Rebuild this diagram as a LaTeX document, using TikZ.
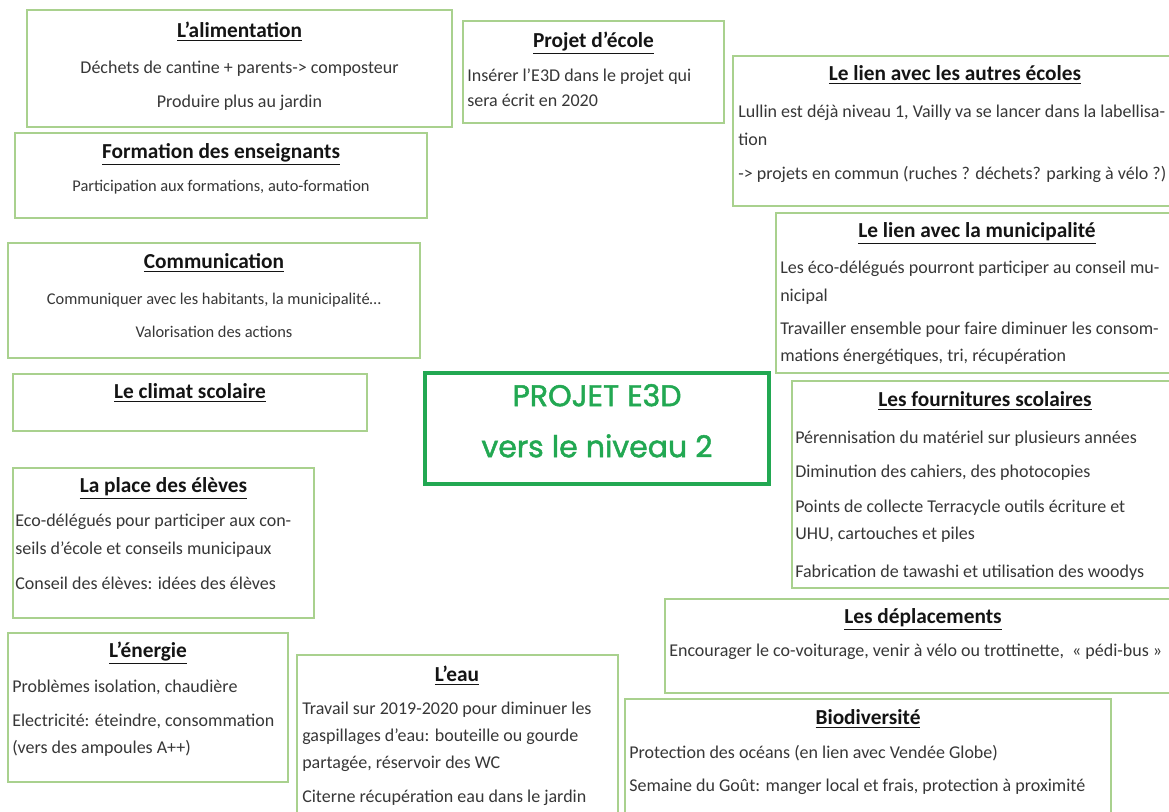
\documentclass[tikz,border=0pt]{standalone}
\usepackage{fontspec}
\setmainfont{Carlito}
\newfontface\ctrfont{Poppins}[FakeBold=1.6]
\usetikzlibrary{fit}
\definecolor{boxg}{RGB}{169,209,142}
\definecolor{ctrg}{RGB}{34,168,82}
\definecolor{txt}{RGB}{55,55,55}
\definecolor{ttlc}{RGB}{20,20,20}
\begin{document}
\begin{tikzpicture}[x=0.75pt,y=-0.75pt,
 box/.style={draw=boxg, line width=1.1pt, inner sep=0pt},
 ttl/.style={font=\fontsize{16}{19}\selectfont\bfseries, text=ttlc, inner sep=0pt, anchor=mid, yshift=-2pt},
 lc/.style={font=\fontsize{13.5}{16}\selectfont, text=txt, inner sep=0pt, anchor=mid, yshift=-1.5pt},
 ll/.style={font=\fontsize{13.5}{16}\selectfont, text=txt, inner sep=0pt, anchor=mid west, yshift=-1.5pt},
 ls/.style={font=\fontsize{12.3}{14}\selectfont, text=txt, inner sep=0pt, anchor=mid, yshift=-1.5pt},
 ctr/.style={font=\ctrfont\fontsize{22.5}{27}\selectfont, text=ctrg, inner sep=0pt, anchor=mid}]
\useasboundingbox (0,0) rectangle (1169,811);
\clip (0,0) rectangle (1169,811);
\fill[white] (0,0) rectangle (1169,811);

% boxes
\node[box, fit={(27,10)(452,127)}] (alimB) {};
\node[box, fit={(15,133)(427,218)}] (formB) {};
\node[box, fit={(463,21)(724,123)}] (projB) {};
\node[box, fit={(733,56)(1178,206)}] (autrB) {};
\node[box, fit={(776,213)(1178,373)}] (muniB) {};
\node[box, fit={(8,243)(420,358)}] (commB) {};
\node[box, fit={(13,374)(367,431)}] (climB) {};
\node[draw=ctrg, line width=2.3pt, inner sep=0pt, fit={(425,373)(769,484)}] (ctrB) {};
\node[box, fit={(792,381)(1178,588)}] (fourB) {};
\node[box, fit={(13,468)(314,618)}] (placB) {};
\node[box, fit={(665,599)(1181,693)}] (deplB) {};
\node[box, fit={(8,633)(288,782)}] (enerB) {};
\node[box, fit={(297,655)(618,820)}] (eauB) {};
\node[box, fit={(625,699)(1111,820)}] (bioB) {};

% L'alimentation
\node[ttl] (alimT) at (239.5,32) {\underline{L’alimentation}};
\node[lc] (alim1) at (239.5,68) {Déchets de cantine + parents-> composteur};
\node[lc] (alim2) at (239.5,102) {Produire plus au jardin};

% Formation
\node[ttl] (formT) at (221,153) {\underline{Formation des enseignants}};
\node[ls] (form1) at (221,186) {Participation aux formations, auto-formation};

% Projet d'ecole
\node[ttl] (projT) at (593.5,42) {\underline{Projet d’école}};
\node[ll] (proj1) at (467,76) {Insérer l’E3D dans le projet qui};
\node[ll] (proj2) at (467,101) {sera écrit en 2020};

% Autres ecoles
\node[ttl] (autrT) at (955,75) {\underline{Le lien avec les autres écoles}};
\node[ll] (autr1) at (738,112) {Lullin est déjà niveau 1, Vailly va se lancer dans la labellisa-};
\node[ll] (autr2) at (738,140) {tion};
\node[ll] (autr3) at (738,174) {-> projets en commun (ruches ? déchets? parking à vélo ?)};

% Municipalite
\node[ttl] (muniT) at (977,232) {\underline{Le lien avec la municipalité}};
\node[ll] (muni1) at (780,268) {Les éco-délégués pourront participer au conseil mu-};
\node[ll] (muni2) at (780,296) {nicipal};
\node[ll] (muni3) at (780,329) {Travailler ensemble pour faire diminuer les consom-};
\node[ll] (muni4) at (780,356) {mations énergétiques, tri, récupération};

% Communication
\node[ttl] (commT) at (214,263) {\underline{Communication}};
\node[ls] (comm1) at (214,299) {Communiquer avec les habitants, la municipalité…};
\node[ls] (comm2) at (214,332) {Valorisation des actions};

% Climat
\node[ttl] (climT) at (190,393) {\underline{Le climat scolaire}};

% Centre
\node[ctr] (ctr1) at (597,403) {PROJET E3D};
\node[ctr] (ctr2) at (597,454) {vers le niveau 2};

% Fournitures
\node[ttl] (fourT) at (985,401) {\underline{Les fournitures scolaires}};
\node[ll] (four1) at (795,438) {Pérennisation du matériel sur plusieurs années};
\node[ll] (four2) at (795,472) {Diminution des cahiers, des photocopies};
\node[ll] (four3) at (795,507) {Points de collecte Terracycle outils écriture et};
\node[ll] (four4) at (795,534) {UHU, cartouches et piles};
\node[ll] (four5) at (795,572) {Fabrication de tawashi et utilisation des woodys};

% Place des eleves
\node[ttl] (placT) at (163.5,487) {\underline{La place des élèves}};
\node[ll] (plac1) at (15,521) {Eco-délégués pour participer aux con-};
\node[ll] (plac2) at (15,549) {seils d’école et conseils municipaux};
\node[ll] (plac3) at (15,584) {Conseil des élèves: idées des élèves};

% Deplacements
\node[ttl] (deplT) at (923,618) {\underline{Les déplacements}};
\node[ll] (depl1) at (669,651) {Encourager le co-voiturage, venir à vélo ou trottinette,\ \ « pédi-bus »};

% Energie
\node[ttl] (enerT) at (148,652) {\underline{L’énergie}};
\node[ll] (ener1) at (12,687) {Problèmes isolation, chaudière};
\node[ll] (ener2) at (12,721) {Electricité: éteindre, consommation};
\node[ll] (ener3) at (12,748) {(vers des ampoules A++)};

% L'eau
\node[ttl] (eauT) at (457,676) {\underline{L’eau}};
\node[ll] (eau1) at (302,709) {Travail sur 2019-2020 pour diminuer les};
\node[ll] (eau2) at (302,736) {gaspillages d’eau: bouteille ou gourde};
\node[ll] (eau3) at (302,763) {partagée, réservoir des WC};
\node[ll] (eau4) at (302,797) {Citerne récupération eau dans le jardin};

% Biodiversite
\node[ttl] (bioT) at (868,719) {\underline{Biodiversité}};
\node[ll] (bio1) at (629,753) {Protection des océans (en lien avec Vendée Globe)};
\node[ll] (bio2) at (629,786) {Semaine du Goût: manger local et frais, protection à proximité};
\end{tikzpicture}
\end{document}
